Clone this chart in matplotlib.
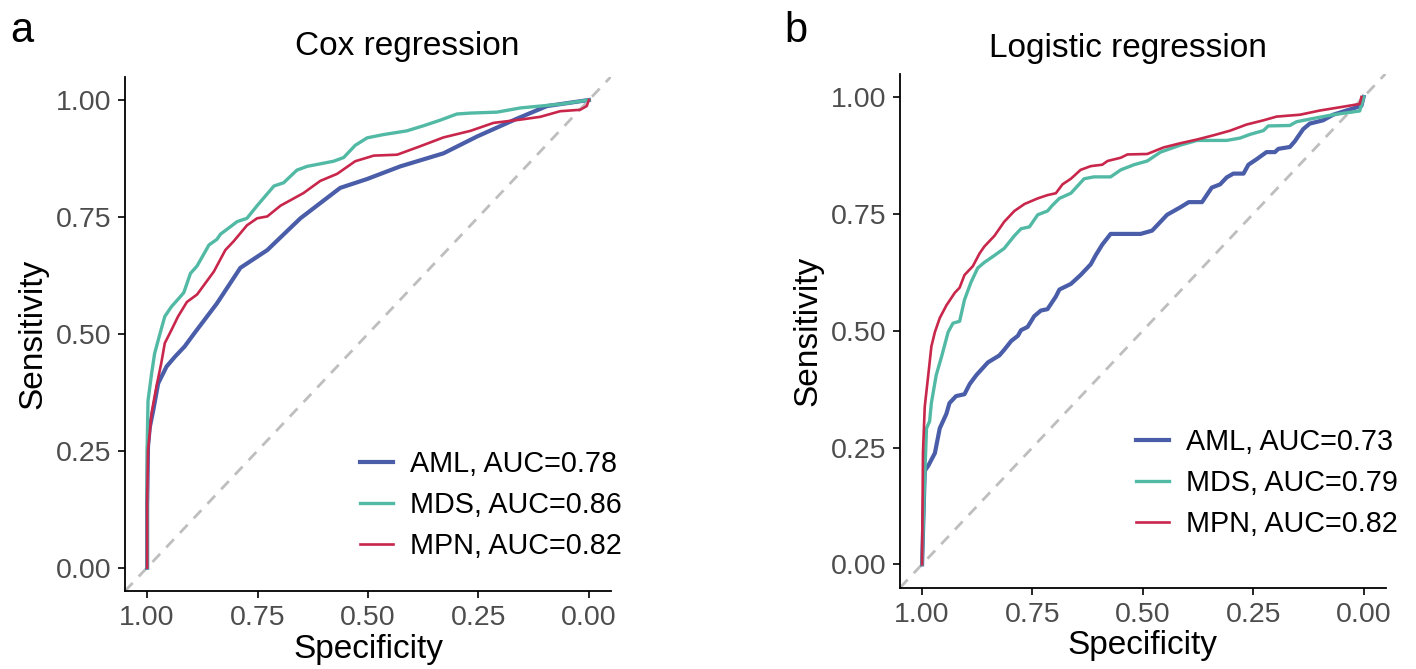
import matplotlib
matplotlib.use("Agg")
import matplotlib.pyplot as plt
from matplotlib.lines import Line2D

plt.rcParams['font.family'] = ['Liberation Sans', 'DejaVu Sans']

# ROC curves, Cox regression (specificity, sensitivity)
cox_aml_spec = [1.0, 1.0, 0.998, 0.994, 0.986, 0.975, 0.956, 0.937, 0.915, 0.894, 0.842, 0.789,
                0.728, 0.653, 0.563, 0.502, 0.427, 0.329, 0.253, 0.163, 0.095, 0.0]
cox_aml_sens = [0.0, 0.13, 0.26, 0.30, 0.337, 0.394, 0.43, 0.451, 0.473, 0.50, 0.565, 0.641,
                0.679, 0.747, 0.812, 0.831, 0.858, 0.886, 0.922, 0.960, 0.987, 1.0]

cox_mds_spec = [1.0, 1.0, 0.998, 0.99, 0.983, 0.971, 0.96, 0.945, 0.928, 0.917, 0.902, 0.887,
                0.860, 0.842, 0.834, 0.796, 0.774, 0.751, 0.713, 0.691, 0.661, 0.638, 0.578,
                0.555, 0.529, 0.502, 0.465, 0.412, 0.374, 0.336, 0.299, 0.268, 0.208, 0.155,
                0.065, 0.0]
cox_mds_sens = [0.0, 0.25, 0.357, 0.414, 0.458, 0.50, 0.537, 0.558, 0.576, 0.588, 0.629, 0.645,
                0.690, 0.702, 0.713, 0.740, 0.747, 0.774, 0.816, 0.823, 0.850, 0.858, 0.869,
                0.877, 0.903, 0.919, 0.926, 0.934, 0.945, 0.957, 0.970, 0.972, 0.974, 0.983,
                0.991, 1.0]

cox_mpn_spec = [1.0, 1.0, 0.998, 0.99, 0.979, 0.968, 0.96, 0.945, 0.930, 0.910, 0.887, 0.849,
                0.823, 0.804, 0.774, 0.751, 0.728, 0.698, 0.646, 0.608, 0.570, 0.529, 0.487,
                0.434, 0.382, 0.329, 0.268, 0.216, 0.155, 0.110, 0.065, 0.020, 0.005, 0.0]
cox_mpn_sens = [0.0, 0.14, 0.25, 0.33, 0.387, 0.437, 0.48, 0.508, 0.537, 0.568, 0.584, 0.633,
                0.679, 0.698, 0.732, 0.747, 0.751, 0.774, 0.801, 0.827, 0.842, 0.869, 0.881,
                0.883, 0.901, 0.920, 0.934, 0.951, 0.958, 0.964, 0.976, 0.979, 0.987, 1.0]

# ROC curves, logistic regression
log_aml_spec = [1.0, 0.994, 0.986, 0.971, 0.960, 0.945, 0.938, 0.923, 0.904, 0.892, 0.877, 0.851,
                0.825, 0.814, 0.798, 0.783, 0.776, 0.761, 0.746, 0.731, 0.716, 0.697, 0.689,
                0.663, 0.641, 0.618, 0.607, 0.592, 0.573, 0.505, 0.479, 0.464, 0.445, 0.415,
                0.396, 0.366, 0.344, 0.325, 0.310, 0.295, 0.272, 0.261, 0.242, 0.220, 0.201,
                0.193, 0.167, 0.156, 0.137, 0.122, 0.092, 0.069, 0.032, 0.005, 0.0]
log_aml_sens = [0.0, 0.200, 0.211, 0.238, 0.291, 0.322, 0.345, 0.360, 0.364, 0.386, 0.405, 0.432,
                0.447, 0.459, 0.478, 0.489, 0.501, 0.508, 0.531, 0.543, 0.546, 0.573, 0.588,
                0.600, 0.619, 0.642, 0.661, 0.684, 0.707, 0.707, 0.714, 0.729, 0.748, 0.764,
                0.775, 0.775, 0.806, 0.813, 0.828, 0.836, 0.836, 0.855, 0.867, 0.882, 0.882,
                0.889, 0.893, 0.905, 0.931, 0.943, 0.950, 0.962, 0.973, 0.981, 1.0]

log_mds_spec = [1.0, 0.995, 0.990, 0.983, 0.979, 0.968, 0.956, 0.941, 0.930, 0.915, 0.904, 0.889,
                0.874, 0.859, 0.836, 0.814, 0.791, 0.776, 0.757, 0.738, 0.716, 0.705, 0.689,
                0.663, 0.633, 0.611, 0.573, 0.550, 0.520, 0.490, 0.460, 0.415, 0.377, 0.310,
                0.280, 0.257, 0.227, 0.216, 0.167, 0.152, 0.114, 0.069, 0.009, 0.002, 0.0]
log_mds_sens = [0.0, 0.162, 0.291, 0.306, 0.345, 0.405, 0.444, 0.497, 0.516, 0.520, 0.566, 0.604,
                0.634, 0.646, 0.661, 0.676, 0.703, 0.718, 0.722, 0.748, 0.756, 0.768, 0.783,
                0.794, 0.825, 0.829, 0.829, 0.844, 0.855, 0.863, 0.882, 0.897, 0.907, 0.907,
                0.912, 0.920, 0.928, 0.938, 0.939, 0.947, 0.954, 0.962, 0.970, 0.992, 1.0]

log_mpn_spec = [1.0, 0.998, 0.994, 0.986, 0.979, 0.971, 0.960, 0.945, 0.926, 0.915, 0.904, 0.885,
                0.870, 0.859, 0.836, 0.814, 0.791, 0.768, 0.738, 0.716, 0.697, 0.682, 0.663,
                0.641, 0.618, 0.592, 0.580, 0.550, 0.535, 0.490, 0.453, 0.415, 0.377, 0.340,
                0.302, 0.265, 0.227, 0.197, 0.144, 0.099, 0.047, 0.009, 0.005]
log_mpn_sens = [0.0, 0.238, 0.337, 0.405, 0.466, 0.497, 0.527, 0.554, 0.581, 0.592, 0.619, 0.638,
                0.665, 0.680, 0.703, 0.733, 0.756, 0.771, 0.783, 0.790, 0.794, 0.813, 0.825,
                0.844, 0.852, 0.855, 0.863, 0.870, 0.877, 0.878, 0.892, 0.901, 0.909, 0.918,
                0.928, 0.941, 0.950, 0.958, 0.962, 0.971, 0.979, 0.985, 1.0]

groups = ["AML", "MDS", "MPN"]
cox_auc = [0.78, 0.86, 0.82]
log_auc = [0.73, 0.79, 0.82]

farben = ["#4A5DA9", "#52B9A5", "#C8264B"]
lebar = [3.0, 2.4, 1.9]

fig = plt.figure(figsize=(14.16, 6.69), dpi=100)
ax1 = fig.add_axes([0.0883, 0.1166, 0.3432, 0.7689])
ax2 = fig.add_axes([0.6356, 0.1215, 0.3430, 0.7685])


def gambar_roc(ax, kurva, auc, legend_pos):
    ax.plot([1.05, -0.05], [-0.05, 1.05], color="#BEBEBE", lw=2.0,
            dashes=(4, 3.2), zorder=1)
    for (spec, sens), c, w in zip(kurva, farben, lebar):
        ax.plot(spec, sens, color=c, lw=w, solid_joinstyle="round", zorder=2)
    ax.set_xlim(1.05, -0.05)
    ax.set_ylim(-0.05, 1.05)
    ticks = [0, 0.25, 0.5, 0.75, 1.0]
    ax.set_xticks(ticks)
    ax.set_yticks(ticks)
    ax.set_xticklabels(["%.2f" % t for t in ticks])
    ax.set_yticklabels(["%.2f" % t for t in ticks])
    for s in ["top", "right"]:
        ax.spines[s].set_visible(False)
    for s in ["left", "bottom"]:
        ax.spines[s].set_linewidth(1.3)
    ax.tick_params(length=5, width=1.2, labelsize=20.5, labelcolor="#4D4D4D", pad=5)
    ax.set_xlabel("Specificity", fontsize=24, va="center")
    ax.set_ylabel("Sensitivity", fontsize=24, va="center")
    ax.xaxis.set_label_coords(0.5, -0.113)
    ax.yaxis.set_label_coords(-0.19, 0.5)

    handles = [Line2D([], [], color=c, lw=w) for c, w in zip(farben, lebar)]
    labels = ["%s, AUC=%.2f" % (g, a) for g, a in zip(groups, auc)]
    ax.legend(handles, labels, loc="upper left", bbox_to_anchor=legend_pos,
              frameon=False, fontsize=20.7, handlelength=1.15, handletextpad=0.6,
              labelspacing=0.45, borderpad=0, borderaxespad=0)


gambar_roc(ax1, [(cox_aml_spec, cox_aml_sens), (cox_mds_spec, cox_mds_sens),
                 (cox_mpn_spec, cox_mpn_sens)], cox_auc, (0.4835, 0.274))
gambar_roc(ax2, [(log_aml_spec, log_aml_sens), (log_mds_spec, log_mds_sens),
                 (log_mpn_spec, log_mpn_sens)], log_auc, (0.486, 0.311))

fig.text(0.2874, 1 - 55 / 669, "Cox regression", fontsize=24, ha="center", va="baseline")
fig.text(0.7963, 1 - 57 / 669, "Logistic regression", fontsize=24, ha="center", va="baseline")
fig.text(10 / 1416, 1 - 42 / 669, "a", fontsize=30, va="baseline")
fig.text(784 / 1416, 1 - 42 / 669, "b", fontsize=30, va="baseline")

fig.savefig("out.png", dpi=100)
